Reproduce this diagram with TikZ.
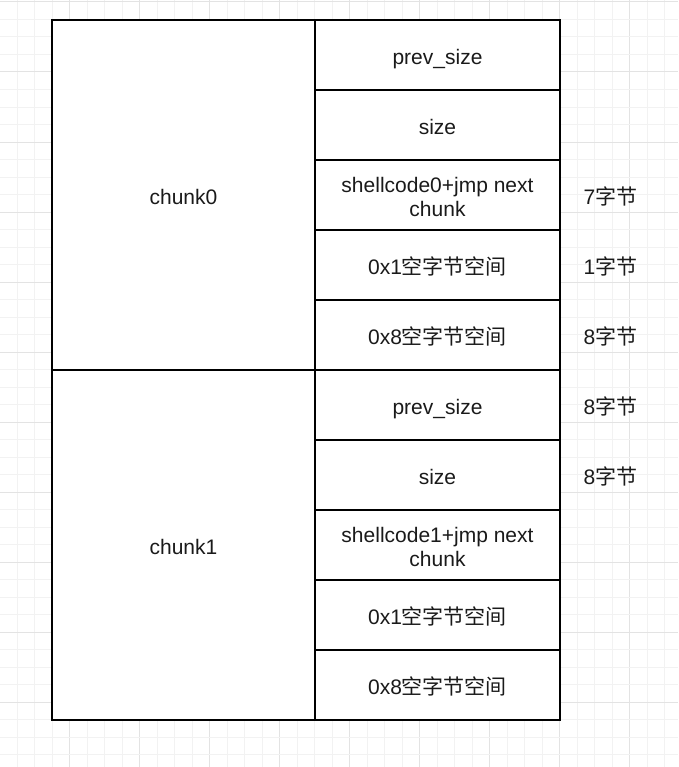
\documentclass[tikz,border=0pt]{standalone}
\usepackage{fontspec}
\setmainfont{Liberation Sans}
\newfontfamily\cjk{Noto Sans CJK SC}
\definecolor{gridminor}{HTML}{F2F2F2}
\definecolor{gridmajor}{HTML}{E3E3E3}
\definecolor{txt}{HTML}{1A1A1A}
\begin{document}
\begin{tikzpicture}[x=0.75pt,y=-0.75pt,
  fnt/.style={font=\fontsize{15.75}{18}\selectfont,text=txt},
  cell/.style={draw=black,line width=1.1pt,fill=white,minimum width=245*0.75pt,minimum height=70*0.75pt,inner sep=0pt,fnt,text height=16pt,text depth=2pt},
  emptycell/.style={draw=black,line width=1.1pt,fill=white,minimum width=245*0.75pt,minimum height=70*0.75pt,inner sep=0pt},
  celltext/.style={fnt,align=center,inner sep=0pt},
  chunkbox/.style={draw=black,line width=1.1pt,fill=white,minimum width=263*0.75pt,minimum height=350*0.75pt,inner sep=0pt,fnt,text height=16pt,text depth=2pt},
  side/.style={fnt,inner sep=0pt,text height=16pt,text depth=2pt}]
\useasboundingbox (0,0) rectangle (678,767);
\fill[white] (0,0) rectangle (678,767);
% grid
\foreach \k in {0,...,39} {
  \pgfmathsetmacro{\gx}{17.5*\k-0.5}
  \pgfmathtruncatemacro{\m}{mod(\k,4)}
  \ifnum\m=0
    \draw[gridmajor,line width=0.75pt] (\gx,0) -- (\gx,767);
  \else
    \draw[gridminor,line width=0.75pt] (\gx,0) -- (\gx,767);
  \fi
}
\foreach \k in {0,...,44} {
  \pgfmathsetmacro{\gy}{17.5*\k+2}
  \pgfmathtruncatemacro{\m}{mod(\k,4)}
  \ifnum\m=0
    \draw[gridmajor,line width=0.75pt] (0,\gy) -- (678,\gy);
  \else
    \draw[gridminor,line width=0.75pt] (0,\gy) -- (678,\gy);
  \fi
}
% chunks
\node[chunkbox] (c0) at (183.5,195) {chunk0};
\node[chunkbox] (c1) at (183.5,545) {chunk1};
% cells
\node[cell] (r1) at (437.5,55) {prev\_size};
\node[cell] (r2) at (437.5,125) {size};
\node[emptycell] (r3) at (437.5,195) {};
\node[celltext] (t3) at ([yshift=-1.5pt]r3.center) {shellcode0+jmp next\\chunk};
\node[cell] (r4) at (437.5,265) {0x1{\cjk 空字节空间}};
\node[cell] (r5) at (437.5,335) {0x8{\cjk 空字节空间}};
\node[cell] (r6) at (437.5,405) {prev\_size};
\node[cell] (r7) at (437.5,475) {size};
\node[emptycell] (r8) at (437.5,545) {};
\node[celltext] (t8) at ([yshift=-1.5pt]r8.center) {shellcode1+jmp next\\chunk};
\node[cell] (r9) at (437.5,615) {0x1{\cjk 空字节空间}};
\node[cell] (r10) at (437.5,685) {0x8{\cjk 空字节空间}};
% side labels
\node[side] (l3) at (610.5,195) {7{\cjk 字节}};
\node[side] (l4) at (610.5,265) {1{\cjk 字节}};
\node[side] (l5) at (610.5,335) {8{\cjk 字节}};
\node[side] (l6) at (610.5,405) {8{\cjk 字节}};
\node[side] (l7) at (610.5,475) {8{\cjk 字节}};
\end{tikzpicture}
\end{document}
